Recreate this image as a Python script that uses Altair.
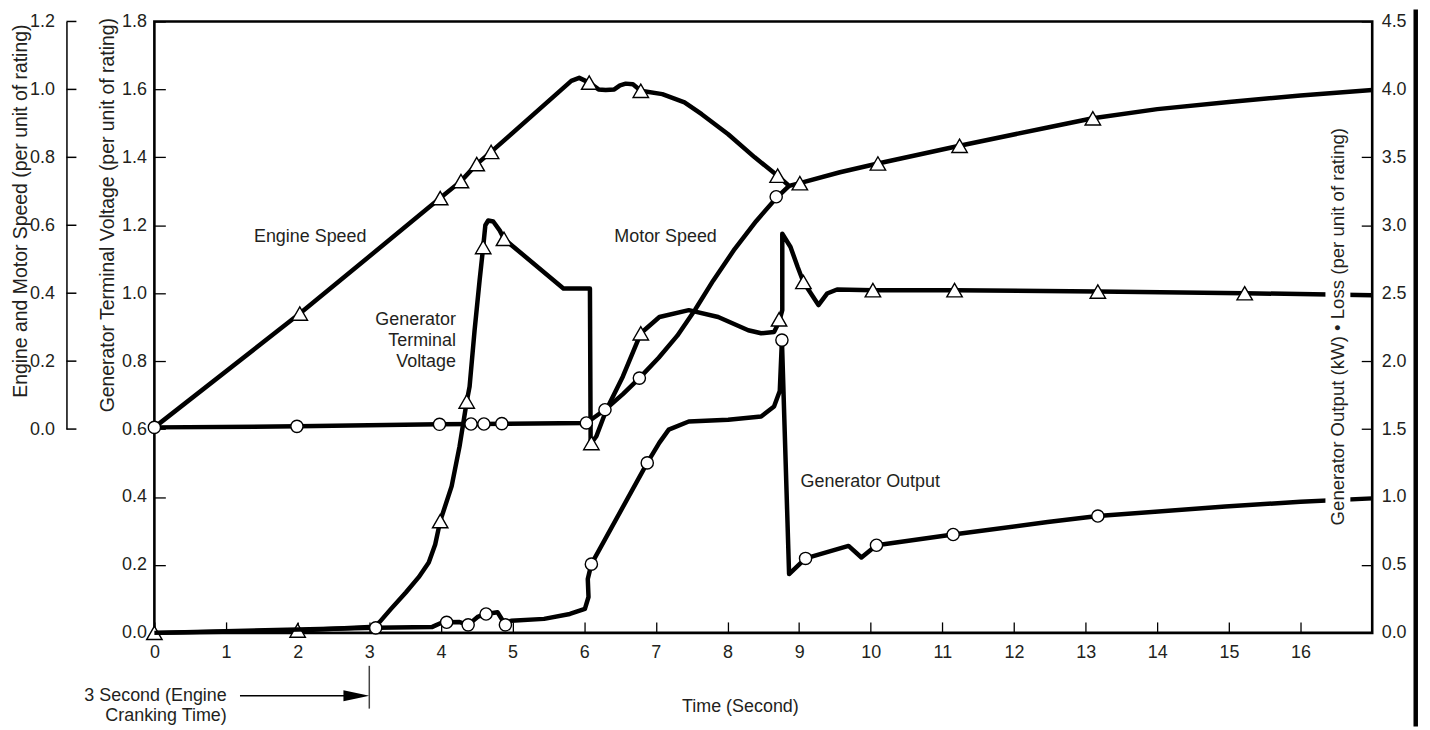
import altair as alt
import pandas as pd

# ---------------- data (time in seconds) ----------------
# Engine speed (per unit) - left outer axis
ENGINE_T = [0.0, 2.03, 3.99, 4.28, 4.50, 4.70, 5.82, 5.93, 6.07, 6.20, 6.30, 6.42, 6.50, 6.58, 6.68, 6.79,
            7.09, 7.40, 7.64, 8.01, 8.38, 8.70, 8.86, 9.01, 9.57, 10.10, 11.24, 12.47, 13.10, 14.0, 15.0, 16.0, 17.0]
ENGINE_S = [0.005, 0.34, 0.68, 0.73, 0.78, 0.816, 1.025, 1.034, 1.02, 1.0, 0.998, 1.0, 1.012, 1.017, 1.015, 0.996,
            0.986, 0.962, 0.927, 0.868, 0.80, 0.746, 0.716, 0.724, 0.756, 0.782, 0.834, 0.888, 0.915, 0.942, 0.963, 0.982, 0.998]
ENGINE_MT = [2.03, 3.99, 4.28, 4.50, 4.70, 6.07, 6.79, 8.70, 9.01, 10.10, 11.24, 13.10]
ENGINE_MS = [0.34, 0.68, 0.73, 0.78, 0.816, 1.02, 0.996, 0.746, 0.724, 0.782, 0.834, 0.915]

# Motor speed (per unit) - left outer axis
MOTOR_T = [0.0, 2.0, 3.98, 6.03, 6.29, 6.54, 6.77, 7.04, 7.30, 7.55, 7.80, 8.10, 8.40, 8.68, 8.86]
MOTOR_S = [0.005, 0.008, 0.014, 0.018, 0.057, 0.103, 0.150, 0.210, 0.275, 0.352, 0.437, 0.530, 0.612, 0.680, 0.716]
MOTOR_MT = [0.0, 1.99, 3.98, 4.42, 4.60, 4.85, 6.03, 6.29, 6.77, 8.68]
MOTOR_MS = [0.005, 0.008, 0.014, 0.015, 0.015, 0.016, 0.018, 0.057, 0.150, 0.684]

# Generator terminal voltage (per unit) - left inner axis
VOLT_T = [0.0, 2.0, 3.08, 3.14, 3.30, 3.51, 3.69, 3.83, 3.92, 3.99,
          4.15, 4.26, 4.36, 4.40, 4.47, 4.54, 4.59, 4.62, 4.66, 4.73,
          4.82, 4.88, 5.71, 6.08, 6.09, 6.17, 6.31, 6.54, 6.79, 7.05,
          7.46, 7.87, 8.29, 8.47, 8.65, 8.72, 8.765, 8.765, 8.88, 8.98,
          9.06, 9.27, 9.39, 9.53, 10.03, 11.17, 13.17, 15.22, 17.0]
VOLT_V = [0.0, 0.007, 0.018, 0.031, 0.07, 0.119, 0.164, 0.207, 0.26, 0.329,
          0.432, 0.549, 0.681, 0.725, 0.891, 1.038, 1.136, 1.20, 1.214, 1.211,
          1.185, 1.16, 1.014, 1.014, 0.556, 0.579, 0.657, 0.755, 0.882, 0.93,
          0.95, 0.93, 0.891, 0.882, 0.886, 0.915, 0.95, 1.175, 1.136, 1.077,
          1.033, 0.965, 0.999, 1.011, 1.009, 1.009, 1.005, 1.0, 0.994]
VOLT_MT = [0.0, 2.0, 3.99, 4.36, 4.59, 4.88, 6.10, 6.79, 8.72, 9.06, 10.03, 11.17, 13.17, 15.22]
VOLT_MV = [0.0, 0.007, 0.329, 0.681, 1.136, 1.16, 0.559, 0.882, 0.923, 1.033, 1.009, 1.009, 1.005, 1.0]

# Generator output (kW, per unit) - right axis
OUT_T = [0.0, 3.09, 3.88, 4.00, 4.08, 4.26, 4.38, 4.52, 4.63, 4.79,
         4.90, 4.98, 5.44, 5.80, 6.01, 6.06, 6.05, 6.10, 6.88, 7.05,
         7.18, 7.46, 8.01, 8.47, 8.65, 8.73, 8.76, 8.86, 9.09, 9.69,
         9.87, 10.08, 11.15, 12.47, 13.17, 14.95, 16.0, 17.0]
OUT_K = [0.0, 0.037, 0.044, 0.073, 0.078, 0.08, 0.059, 0.12, 0.139, 0.152,
         0.059, 0.09, 0.103, 0.139, 0.176, 0.264, 0.396, 0.506, 1.251, 1.40,
         1.496, 1.556, 1.569, 1.593, 1.666, 1.78, 2.155, 0.433, 0.548, 0.64,
         0.555, 0.645, 0.724, 0.816, 0.86, 0.93, 0.965, 0.99]
OUT_MT = [3.09, 4.08, 4.38, 4.63, 4.90, 6.10, 6.88, 8.76, 9.09, 10.08, 11.15, 13.17]
OUT_MK = [0.037, 0.078, 0.059, 0.139, 0.059, 0.506, 1.251, 2.155, 0.548, 0.645, 0.724, 0.86]

X_TICKS = list(range(17))
SPEED_TICKS = [0.0, 0.2, 0.4, 0.6, 0.8, 1.0, 1.2]
VOLT_TICKS = [0.0, 0.2, 0.4, 0.6, 0.8, 1.0, 1.2, 1.4, 1.6, 1.8]
KW_TICKS = [0.0, 0.5, 1.0, 1.5, 2.0, 2.5, 3.0, 3.5, 4.0, 4.5]

# annotations (time, voltage-axis units)
LABEL_L = ["Engine Speed", "Motor Speed", "Generator Output"]
LABEL_L_T = [1.39, 6.42, 9.02]
LABEL_L_V = [1.164, 1.164, 0.443]
LABEL_R = ["Generator", "Terminal", "Voltage", "3 Second (Engine", "Cranking Time)"]
LABEL_R_T = [4.21, 4.21, 4.21, 1.01, 1.01]
LABEL_R_V = [0.921, 0.859, 0.798, -0.185, -0.246]

# ---------------- styling ----------------
W, H = 1223, 614
FONT = "Liberation Sans"
TXT = "#231f20"
LW = 4.5
OUTER_OFF = 88.3  # outer speed axis line, px left of the plot


def line_df(ts, vs):
    return pd.DataFrame({"t": ts, "val": vs, "i": list(range(len(ts)))})


def pt_df(ts, vs):
    return pd.DataFrame({"t": ts, "val": vs})


x_enc = alt.X(
    "t:Q",
    scale=alt.Scale(domain=[0, 17], nice=False, zero=False),
    axis=alt.Axis(
        orient="top", offset=-H, values=X_TICKS, format="d",
        domain=False, ticks=True, tickSize=11, tickColor="black", tickWidth=1.3,
        labelPadding=-22, labelBaseline="top", labelFlush=False,
        labelFontSize=18, labelColor=TXT, labelFont=FONT,
        grid=False,
        title="Time (Second)", titleX=588, titleY=74, titleAlign="center",
        titleBaseline="middle", titleAngle=0, titleFontSize=18,
        titleFontWeight="normal", titleFont=FONT, titleColor=TXT,
    ),
)

y_speed = alt.Y(
    "val:Q",
    scale=alt.Scale(domain=[0, 1.2], range=[H * 2 / 3, 0], nice=False, zero=False),
    axis=alt.Axis(
        orient="left", offset=OUTER_OFF, values=SPEED_TICKS, format=".1f",
        domain=True, domainColor="black", domainWidth=1.5,
        ticks=False, tickSize=0,
        labelPadding=12, labelFontSize=18, labelColor=TXT, labelFont=FONT, grid=False,
        title="Engine and Motor Speed (per unit of rating)",
        titleAngle=270, titleX=-45.7, titleY=190, titleAlign="center",
        titleBaseline="middle", titleFontSize=19.5, titleFontWeight="normal",
        titleFont=FONT, titleColor=TXT,
    ),
)

y_volt = alt.Y(
    "val:Q",
    scale=alt.Scale(domain=[0, 1.8], nice=False, zero=False),
    axis=alt.Axis(
        orient="left", values=VOLT_TICKS, format=".1f",
        domain=False, ticks=False, tickSize=0, labelPadding=8,
        labelFontSize=18, labelColor=TXT, labelFont=FONT,
        grid=True, gridColor="black", gridWidth=1.3, gridOpacity=1, gridDash=[11, 4000],
        title="Generator Terminal Voltage (per unit of rating)",
        titleAngle=270, titleX=-47, titleY=194, titleAlign="center",
        titleBaseline="middle", titleFontSize=19.5, titleFontWeight="normal",
        titleFont=FONT, titleColor=TXT,
    ),
)

y_kw = alt.Y(
    "val:Q",
    scale=alt.Scale(domain=[0, 4.5], nice=False, zero=False),
    axis=alt.Axis(
        orient="right", values=KW_TICKS, format=".1f",
        domain=False, ticks=False, tickSize=0, labelPadding=9,
        labelFontSize=18, labelColor=TXT, labelFont=FONT,
        grid=True, gridColor="black", gridWidth=1.3, gridOpacity=1, gridDash=[11, 4000],
        title="Generator Output (kW) \u2022 Loss (per unit of rating)",
        titleAngle=270, titleX=-35, titleY=306, titleAlign="center",
        titleBaseline="middle", titleFontSize=18.7, titleFontWeight="normal",
        titleFont=FONT, titleColor=TXT, zindex=1,
    ),
)


def line(df, y):
    return alt.Chart(df).mark_line(
        color="black", strokeWidth=LW, strokeJoin="round", strokeCap="butt"
    ).encode(x=x_enc, y=y, order="i:Q")


def pts(df, y, shape, size):
    return alt.Chart(df).mark_point(
        shape=shape, size=size, filled=True, fill="white", stroke="black",
        strokeWidth=1.4, opacity=1, fillOpacity=1
    ).encode(x=x_enc, y=y)


TRI = "triangle-up"
CIR = "circle"

# ---- voltage sub-layer (with annotations) ----
lbl_left = alt.Chart(pd.DataFrame({"t": LABEL_L_T, "val": LABEL_L_V, "label": LABEL_L})).mark_text(
    align="left", baseline="middle", font=FONT, fontSize=18, color=TXT
).encode(x=x_enc, y=y_volt, text="label:N")
lbl_right = alt.Chart(pd.DataFrame({"t": LABEL_R_T, "val": LABEL_R_V, "label": LABEL_R})).mark_text(
    align="right", baseline="middle", font=FONT, fontSize=18, color=TXT
).encode(x=x_enc, y=y_volt, text="label:N")

arrow_shaft = alt.Chart(pd.DataFrame({"t": [1.195], "t2": [2.76], "val": [-0.185]})).mark_rule(
    color="black", strokeWidth=1.5
).encode(x=x_enc, x2="t2:Q", y=y_volt)
arrow_head = alt.Chart(pd.DataFrame({"t": [2.82], "val": [-0.185]})).mark_point(
    shape="M -1 -0.42 L 1 0 L -1 0.42 Z", size=676, filled=True, color="black", opacity=1
).encode(x=x_enc, y=y_volt)
crank_line = alt.Chart(pd.DataFrame({"t": [3.0], "val": [-0.097], "val2": [-0.223]})).mark_rule(
    color="#444444", strokeWidth=1.5
).encode(x=x_enc, y=y_volt, y2="val2:Q")

volt_layer = alt.layer(
    line(line_df(VOLT_T, VOLT_V), y_volt),
    pts(pt_df(VOLT_MT, VOLT_MV), y_volt, TRI, 240),
    lbl_left, lbl_right, arrow_shaft, arrow_head, crank_line,
)

# ---- speed sub-layer (outer-axis ticks point into the gap, as in the original) ----
speed_ticks = alt.Chart(pd.DataFrame({"val": SPEED_TICKS})).mark_tick(
    color="black", thickness=1.5, size=1, orient="horizontal"
).encode(y=y_speed)
speed_tick_rules = alt.Chart(pd.DataFrame({"val": SPEED_TICKS})).mark_rule(
    color="black", strokeWidth=1.5
).encode(
    y=y_speed,
    x=alt.value(-OUTER_OFF),
    x2=alt.value(-OUTER_OFF + 10),
)

speed_layer = alt.layer(
    line(line_df(ENGINE_T, ENGINE_S), y_speed),
    line(line_df(MOTOR_T, MOTOR_S), y_speed),
    pts(pt_df(ENGINE_MT, ENGINE_MS), y_speed, TRI, 240),
    pts(pt_df(MOTOR_MT, MOTOR_MS), y_speed, CIR, 150),
    speed_tick_rules,
)

# ---- output sub-layer ----
title_bg = alt.Chart(pd.DataFrame({"t": [16.347], "t2": [16.695], "val": [0.78], "val2": [3.72]})).mark_rect(
    color="white", opacity=1
).encode(x=x_enc, x2="t2:Q", y=y_kw, y2="val2:Q")
frame_edge = alt.Chart(pd.DataFrame({"a": [0]})).mark_rule(color="black", strokeWidth=4.5).encode(
    x=alt.value(1266.7), y=alt.value(-12), y2=alt.value(708)
)

kw_layer = alt.layer(
    line(line_df(OUT_T, OUT_K), y_kw),
    pts(pt_df(OUT_MT, OUT_MK), y_kw, CIR, 150),
    title_bg,
    frame_edge,
)

chart = (
    alt.layer(volt_layer, speed_layer, kw_layer)
    .resolve_scale(y="independent")
    .properties(
        width=W, height=H,
        autosize=alt.AutoSizeParams(type="none"),
        padding={"left": 147, "top": 12, "right": 50, "bottom": 94},
    )
    .configure(background="white")
    .configure_view(stroke="black", strokeWidth=2.6)
)

chart.save("out.html", embed_options={"renderer": "svg", "actions": False})
